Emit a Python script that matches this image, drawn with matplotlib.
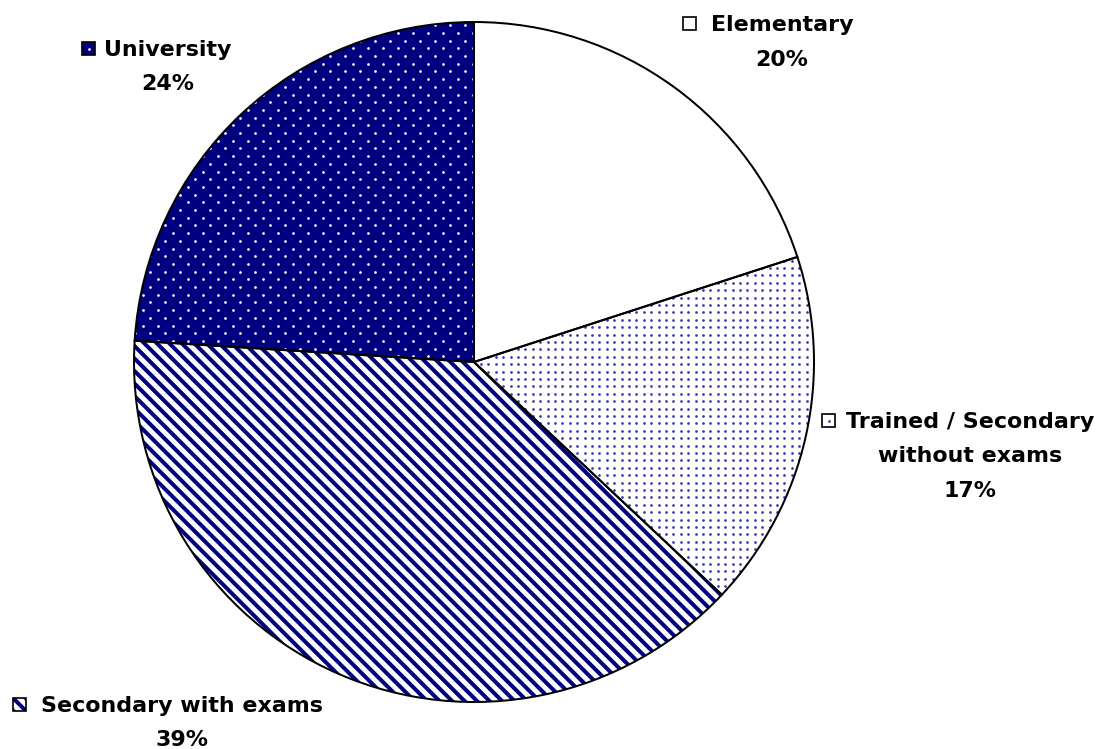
import matplotlib
matplotlib.use('Agg')
import numpy as np
import matplotlib.pyplot as plt
from matplotlib.patches import Wedge, Rectangle
from matplotlib.collections import LineCollection

categories = ['Elementary', 'Trained / Secondary\nwithout exams', 'Secondary with exams', 'University']
shares = [20, 17, 39, 24]
face_colors = ['white', 'white', 'white', '#000080']
fills = [None, 'grid', 'stripes', 'stagger']
pattern_colors = ['white', '#3535b0', '#000080', 'white']

# label layout (pixels, from top-left): text centre x, first baseline y, key left x
label_x = [782, 970, 182, 168]
label_base = [31, 428, 712, 56]
key_x = [683, 822, 13, 82]
line_step = 34.5

plt.rcParams['font.family'] = ['DejaVu Sans']
plt.rcParams['font.weight'] = 'bold'

W, H, DPI = 1108, 749, 120
fig = plt.figure(figsize=(W / DPI, H / DPI), dpi=DPI)
ax = fig.add_axes([0, 0, 1, 1])

cx, cy, rad = 474, H - 362, 340
wedges, _ = ax.pie(shares, colors=face_colors, startangle=90, counterclock=False,
                   center=(cx, cy), radius=rad, wedgeprops=dict(linewidth=0))


def lattice(ox, oy, dx, dy, stagger):
    pts = []
    r0 = int(np.floor(-oy / dy)) - 1
    r1 = int(np.ceil((H - oy) / dy)) + 1
    for r in range(r0, r1 + 1):
        y = oy + r * dy
        sx = ox + (dx / 2 if stagger and r % 2 else 0)
        sx -= np.ceil(sx / dx) * dx
        pts += [(x, y) for x in np.arange(sx, W + dx, dx)]
    return np.array(pts)


def add_fill(patch, kind, color, z, ox=0.0, oy=0.0):
    # pattern fills drawn as marks clipped to the slice / key
    if kind == 'stripes':
        per = 12.5
        c = np.arange(0, W + H + per, per) + (ox + oy) % per
        segs = [[(ci - H, H), (ci, 0)] for ci in c]
        lc = LineCollection(segs, colors=color, linewidths=2.4, zorder=z)
        ax.add_collection(lc)
        lc.set_clip_path(patch)
        return
    if kind == 'grid':
        pts = lattice(ox, oy, 7.4, 7.4, False)
    else:
        pts = lattice(ox, oy, 15.0, 7.7, True)
    sc = ax.scatter(pts[:, 0], pts[:, 1], s=2.6, c=color, linewidths=0, zorder=z)
    sc.set_clip_path(patch)


for w, kind, pc in zip(wedges, fills, pattern_colors):
    if kind:
        add_fill(w, kind, pc, 2)
    ax.add_patch(Wedge(w.center, w.r, w.theta1, w.theta2, fill=False,
                       edgecolor='black', linewidth=1.2, zorder=3))

ks = 13
for i, cat in enumerate(categories):
    lines = cat.split('\n') + [f'{shares[i]}%']
    for j, ln in enumerate(lines):
        ax.text(label_x[i], H - (label_base[i] + j * line_step), ln, ha='center',
                va='baseline', fontsize=13.3, fontweight='bold', color='black')
    ky = H - (label_base[i] - 1)
    key = Rectangle((key_x[i], ky), ks, ks, facecolor=face_colors[i],
                    edgecolor='none', zorder=2)
    ax.add_patch(key)
    if fills[i]:
        add_fill(key, fills[i], pattern_colors[i], 3, key_x[i] + ks / 2, ky + ks / 2)
    ax.add_patch(Rectangle((key_x[i], ky), ks, ks, fill=False, edgecolor='black',
                           linewidth=1.0, zorder=4))

ax.set_xlim(0, W)
ax.set_ylim(0, H)
ax.set_aspect('auto')
ax.axis('off')

fig.savefig('out.png', dpi=DPI, facecolor='white')
